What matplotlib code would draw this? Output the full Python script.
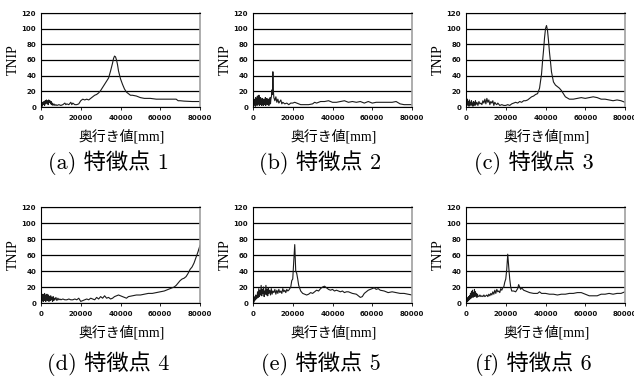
import matplotlib
matplotlib.use("Agg")
import matplotlib.pyplot as plt

# depth [mm] vs TNIP
x_a = [
    0, 300, 600, 900, 1200, 1500, 1800, 2100, 2400, 2700,
    3000, 3300, 3600, 3900, 4200, 4500, 4800, 5100, 5400, 5700,
    6000, 6500, 7000, 7500, 8000, 9000, 10000, 11000, 12000, 12500,
    13000, 14000, 15000, 15500, 16000, 17000, 18000, 19000, 20000, 21000,
    22000, 23000, 24000, 25000, 26000, 27000, 28000, 29000, 30000, 31000,
    32000, 33000, 34000, 35000, 36000, 36500, 37000, 37500, 38000, 38500,
    39000, 40000, 41000, 42000, 43000, 44000, 45000, 46000, 48000, 50000,
    52000, 55000, 58000, 60000, 64000, 68000, 69000, 70000, 72000, 76000,
    80000]
y_a = [
    2, 5, 1, 6, 3, 7, 2, 8, 4, 9,
    5, 8, 3, 9, 6, 8, 4, 7, 3, 5,
    2, 4, 2, 3, 2, 3, 2, 3, 5, 3,
    4, 3, 6, 3, 5, 3, 3, 4, 8, 10,
    9, 10, 9, 11, 13, 15, 16, 18, 21, 25,
    29, 33, 37, 46, 56, 62, 65, 64, 60, 54,
    46, 36, 29, 23, 19, 17, 15, 15, 14, 12,
    11, 11, 10, 10, 10, 10, 8, 8, 7.5, 7,
    7]

x_b = [
    0, 200, 400, 600, 800, 1000, 1200, 1400, 1600, 1800,
    2000, 2200, 2400, 2600, 2800, 3000, 3200, 3400, 3600, 3800,
    4000, 4200, 4400, 4600, 4800, 5000, 5200, 5400, 5600, 5800,
    6000, 6200, 6400, 6600, 6800, 7000, 7200, 7400, 7600, 7800,
    8000, 8200, 8400, 8600, 8800, 9000, 9300, 9600, 9800, 10000,
    10200, 10500, 11000, 11500, 12000, 12500, 13000, 13500, 14000, 14500,
    15000, 16000, 17000, 18000, 19000, 20000, 21000, 22000, 23000, 24000,
    26000, 28000, 30000, 31000, 32000, 34000, 36000, 38000, 39000, 40000,
    42000, 44000, 46000, 48000, 50000, 52000, 54000, 56000, 58000, 60000,
    62000, 64000, 66000, 68000, 70000, 72000, 74000, 76000, 78000, 80000]
y_b = [
    1, 8, 2, 10, 3, 7, 1, 12, 4, 9,
    2, 14, 3, 8, 5, 15, 2, 10, 4, 12,
    3, 9, 2, 11, 5, 8, 2, 10, 4, 7,
    3, 12, 2, 9, 5, 11, 3, 8, 4, 10,
    2, 9, 5, 12, 4, 10, 14, 22, 16, 45,
    22, 12, 8, 13, 6, 10, 5, 7, 9, 4,
    6, 4, 5, 3, 5, 5, 6, 5, 4, 3,
    3, 3, 4, 6, 5, 7, 7, 8, 7, 6,
    6, 7, 8, 6, 7, 6, 7, 5, 7, 5,
    6, 6, 6, 6, 6, 7, 4, 3, 3, 3]

x_c = [
    0, 250, 500, 750, 1000, 1250, 1500, 1750, 2000, 2250,
    2500, 2750, 3000, 3250, 3500, 3750, 4000, 4250, 4500, 4750,
    5000, 5500, 6000, 6500, 7000, 7500, 8000, 8500, 9000, 9500,
    10000, 10500, 11000, 11500, 12000, 12500, 13000, 13500, 14000, 14500,
    15000, 15500, 16000, 17000, 18000, 19000, 20000, 21000, 22000, 23000,
    24000, 25000, 26000, 27000, 28000, 29000, 30000, 31000, 32000, 33000,
    34000, 35000, 36000, 37000, 38000, 38500, 39000, 39500, 40000, 40500,
    41000, 41500, 42000, 42500, 43000, 44000, 45000, 46000, 47000, 48000,
    49000, 50000, 52000, 54000, 56000, 58000, 60000, 62000, 64000, 66000,
    68000, 70000, 72000, 74000, 76000, 78000, 80000]
y_c = [
    1, 8, 2, 10, 3, 7, 1, 9, 4, 6,
    2, 8, 3, 5, 1, 7, 4, 6, 2, 8,
    3, 6, 2, 7, 4, 5, 3, 8, 5, 10,
    4, 11, 6, 9, 3, 7, 5, 8, 2, 6,
    4, 3, 5, 2, 3, 2, 2, 3, 2, 4,
    5, 6, 5, 7, 6, 8, 8, 9, 11, 13,
    14, 16, 17, 24, 42, 58, 72, 88, 100, 104,
    98, 85, 70, 58, 45, 32, 28, 26, 24, 21,
    17, 13, 10, 10, 11, 12, 11, 12, 13, 12,
    10, 10, 9, 8, 9, 8, 6]

x_d = [
    0, 200, 400, 600, 800, 1000, 1200, 1400, 1600, 1800,
    2000, 2200, 2400, 2600, 2800, 3000, 3200, 3400, 3600, 3800,
    4000, 4300, 4600, 4900, 5200, 5500, 5800, 6100, 6400, 6700,
    7000, 7500, 8000, 8500, 9000, 9500, 10000, 11000, 12000, 13000,
    14000, 15000, 16000, 17000, 18000, 19000, 20000, 21000, 22000, 23000,
    24000, 25000, 26000, 27000, 28000, 29000, 30000, 31000, 32000, 33000,
    34000, 35000, 36000, 37000, 38000, 39000, 40000, 41000, 42000, 43000,
    44000, 46000, 48000, 50000, 52000, 54000, 56000, 58000, 60000, 62000,
    64000, 66000, 67000, 68000, 69000, 70000, 71000, 72000, 73000, 74000,
    75000, 76000, 77000, 78000, 79000, 80000]
y_d = [
    1, 6, 2, 9, 3, 11, 2, 8, 4, 12,
    3, 10, 2, 9, 5, 11, 3, 8, 4, 10,
    2, 8, 3, 9, 4, 7, 2, 8, 3, 6,
    4, 7, 3, 6, 4, 5, 4, 5, 4, 4,
    5, 4, 4, 5, 4, 6, 2, 3, 4, 5,
    4, 6, 5, 4, 7, 5, 8, 6, 9, 6,
    7, 5, 6, 8, 9, 10, 9, 8, 7, 6,
    8, 9, 10, 10, 11, 12, 12, 13, 14, 15,
    17, 19, 20, 22, 25, 28, 30, 31, 33, 37,
    42, 45, 50, 57, 64, 72]

x_e = [
    0, 200, 400, 600, 800, 1000, 1200, 1400, 1600, 1800,
    2000, 2300, 2600, 2900, 3200, 3500, 3800, 4100, 4400, 4700,
    5000, 5300, 5600, 5900, 6200, 6500, 6800, 7100, 7400, 7700,
    8000, 8400, 8800, 9200, 9600, 10000, 10500, 11000, 11500, 12000,
    12500, 13000, 13500, 14000, 14500, 15000, 15500, 16000, 16500, 17000,
    17500, 18000, 18500, 19000, 19500, 20000, 20500, 21000, 21500, 22000,
    22500, 23000, 24000, 25000, 26000, 27000, 28000, 29000, 30000, 31000,
    32000, 33000, 34000, 35000, 36000, 37000, 38000, 39000, 40000, 41000,
    42000, 43000, 44000, 45000, 46000, 47000, 48000, 50000, 52000, 54000,
    55000, 56000, 58000, 60000, 61000, 62000, 63000, 64000, 66000, 68000,
    70000, 72000, 74000, 76000, 78000, 80000]
y_e = [
    2, 6, 1, 7, 3, 8, 4, 10, 5, 9,
    6, 14, 7, 18, 8, 16, 10, 22, 9, 17,
    12, 20, 8, 15, 11, 22, 10, 17, 9, 19,
    12, 16, 10, 18, 11, 15, 13, 17, 11, 16,
    12, 17, 13, 15, 12, 18, 14, 16, 13, 17,
    15, 16, 18, 20, 28, 30, 52, 73, 40, 37,
    30, 22, 15, 12, 11, 10, 11, 13, 12, 14,
    16, 15, 18, 20, 21, 19, 17, 16, 17, 15,
    16, 15, 14, 15, 13, 14, 14, 12, 11, 7,
    8, 12, 16, 18, 19, 17, 18, 16, 15, 13,
    14, 13, 12, 12, 11, 10]

x_f = [
    0, 200, 400, 600, 800, 1000, 1200, 1400, 1600, 1800,
    2000, 2250, 2500, 2750, 3000, 3250, 3500, 3750, 4000, 4250,
    4500, 4750, 5000, 5250, 5500, 5750, 6000, 6500, 7000, 7500,
    8000, 8500, 9000, 9500, 10000, 10500, 11000, 11500, 12000, 12500,
    13000, 13500, 14000, 14500, 15000, 15500, 16000, 16500, 17000, 17500,
    18000, 18500, 19000, 19500, 20000, 20500, 21000, 21500, 22000, 22500,
    23000, 24000, 25000, 26000, 26500, 27000, 27500, 28000, 29000, 30000,
    31000, 32000, 34000, 36000, 37000, 38000, 40000, 42000, 44000, 46000,
    48000, 50000, 52000, 54000, 56000, 58000, 60000, 62000, 64000, 66000,
    68000, 70000, 72000, 74000, 76000, 78000, 80000]
y_f = [
    0, 3, 1, 5, 2, 7, 3, 8, 4, 9,
    5, 12, 6, 14, 8, 16, 7, 13, 9, 17,
    8, 14, 10, 12, 7, 11, 9, 8, 10, 8,
    9, 8, 10, 8, 9, 10, 8, 11, 9, 12,
    10, 14, 11, 16, 12, 17, 14, 15, 13, 18,
    16, 19, 20, 26, 30, 42, 61, 45, 30, 20,
    15, 15, 14, 18, 23, 20, 17, 19, 16, 15,
    14, 13, 12, 12, 14, 12, 12, 11, 11, 10,
    11, 11, 12, 12, 13, 13, 11, 9, 9, 9,
    11, 11, 12, 11, 12, 12, 14]

panel_tags = ["a", "b", "c", "d", "e", "f"]
point_ids = ["1", "2", "3", "4", "5", "6"]
series = [(x_a, y_a), (x_b, y_b), (x_c, y_c), (x_d, y_d), (x_e, y_e), (x_f, y_f)]
y_ticks = [0, 20, 40, 60, 80, 100, 120]
x_ticks = [0, 20000, 40000, 60000, 80000]
x_ticklabels = ["0", "20000", "40000", "60000", "80000"]

W, H = 634, 378
col_left = [41, 253, 466]
row_top = [13, 207]
row_h = [94, 96]
ax_w = 159
xlabel_y = [136, 332]
caption_y = [163, 364]

cjk = ['Noto Sans CJK JP']

fig = plt.figure(figsize=(W / 100, H / 100), dpi=100)

for i, (xs, ys) in enumerate(series):
    r, c = divmod(i, 3)
    left, top, h = col_left[c], row_top[r], row_h[r]
    ax = fig.add_axes([left / W, 1 - (top + h) / H, ax_w / W, h / H])
    ax.plot(xs, ys, color='#1a1a1a', lw=0.8)
    ax.set_xlim(0, 80000)
    ax.set_ylim(0, 120)
    ax.set_yticks(y_ticks)
    ax.set_yticklabels([str(v) for v in y_ticks])
    ax.set_xticks(x_ticks)
    ax.set_xticklabels(x_ticklabels)
    ax.yaxis.grid(True, color='black', lw=0.9)
    ax.set_axisbelow(True)
    ax.tick_params(axis='y', length=0, pad=3.5, labelsize=5, labelcolor='#111111')
    ax.tick_params(axis='x', length=2, width=0.6, direction='out', pad=4,
                   labelsize=5, labelcolor='#111111')
    for lab in ax.get_xticklabels() + ax.get_yticklabels():
        lab.set_fontweight('bold')
    for side in ['left', 'bottom', 'top']:
        ax.spines[side].set_color('black')
        ax.spines[side].set_linewidth(0.8)
    ax.spines['right'].set_color('#a0a0a0')
    ax.spines['right'].set_linewidth(1.2)

    cx = left + ax_w / 2
    fig.text((left - 28) / W, 1 - (top + h / 2) / H, "TNIP",
             family='Liberation Serif', fontsize=10, rotation=90,
             ha='center', va='center')
    fig.text((cx + 1) / W, 1 - xlabel_y[r] / H, "奥行き値[mm]",
             family=['Liberation Serif'] + cjk, fontsize=10,
             ha='center', va='center')
    fig.text((cx - 12) / W, 1 - caption_y[r] / H,
             "(%s) 特徴点 %s" % (panel_tags[i], point_ids[i]),
             family=['cmr10'] + cjk, fontsize=16, ha='center', va='center')

fig.savefig("out.png", dpi=100)
